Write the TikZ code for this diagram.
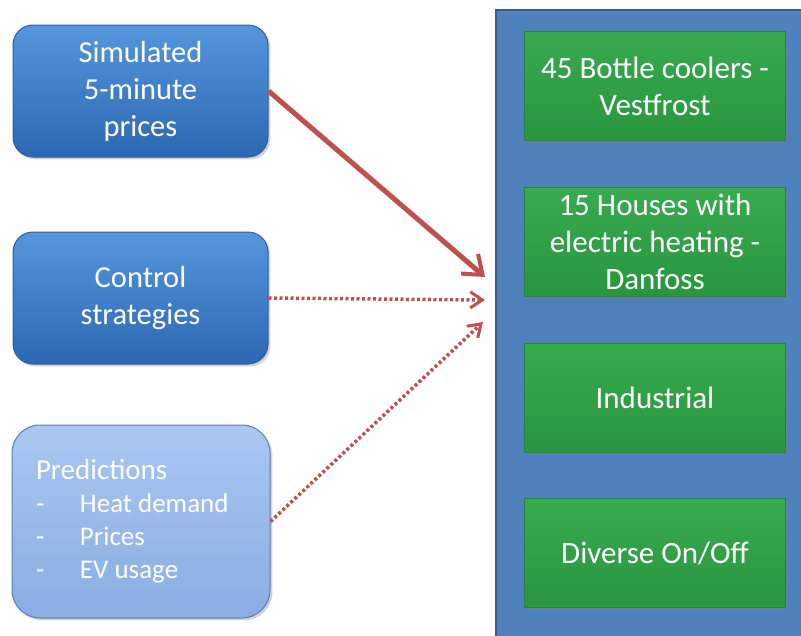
\documentclass[tikz,border=0pt]{standalone}
\usepackage{fontspec}
\setmainfont{Carlito}
\usepackage{tikz}
\usetikzlibrary{arrows.meta, positioning, shadows}

\definecolor{srctop}{HTML}{5596DD}
\definecolor{srcbottom}{HTML}{2C68B2}
\definecolor{srcline}{HTML}{2F5F9E}
\definecolor{predtop}{HTML}{A9C7F0}
\definecolor{predbottom}{HTML}{8AADE2}
\definecolor{panelfill}{HTML}{4F81BD}
\definecolor{panelline}{HTML}{385D8A}
\definecolor{unittop}{HTML}{38AA4F}
\definecolor{unitbottom}{HTML}{29963F}
\definecolor{unitline}{HTML}{26843A}
\definecolor{linkred}{HTML}{C0504D}

\begin{document}
\begin{tikzpicture}[
    x=1pt, y=-1pt,
    source/.style={rectangle, rounded corners=20pt, draw=srcline, line width=1pt, top color=srctop, bottom color=srcbottom, text=white, minimum width=255pt, minimum height=132pt, align=center, font=\fontsize{30.5}{37}\selectfont, drop shadow={opacity=0.35}},
    forecast/.style={rectangle, rounded corners=28pt, draw=srcline!80, line width=1pt, top color=predtop, bottom color=predbottom, text=white, minimum width=258pt, minimum height=193pt, text width=210pt, align=flush left, font=\fontsize{27}{33}\selectfont, drop shadow={opacity=0.35}},
    panel/.style={rectangle, draw=panelline, line width=2pt, fill=panelfill, minimum width=314pt, minimum height=640pt},
    unit/.style={rectangle, draw=unitline, line width=0.8pt, top color=unittop, bottom color=unitbottom, text=white, minimum width=261pt, minimum height=109pt, align=center, font=\fontsize{31}{37}\selectfont, drop shadow={opacity=0.4}},
    solidlink/.style={-{Straight Barb[length=17pt, width=26pt, line width=4pt]}, line width=5pt, draw=linkred},
    dotlink/.style={-{Straight Barb[length=12pt, width=16pt, line width=3pt]}, line width=3.5pt, draw=linkred, dash pattern=on 3pt off 2.5pt},
    node distance=46pt
]
\useasboundingbox (0,0) rectangle (801,635);
\clip (0,0) rectangle (801,635);

% Inputs
\node[source] (sim) at (140.5,91) {Simulated\\5-minute\\prices};
\node[source, below=74pt of sim] (ctrl) {Control\\strategies};
\node[forecast] (pred) at (141,521.5) {{\fontsize{29}{33}\selectfont Predictions}\\
  \makebox[44pt][l]{-}Heat demand\\
  \makebox[44pt][l]{-}Prices\\
  \makebox[44pt][l]{-}EV usage};

% Flexible units
\node[panel] (rack) at (653,330) {};
\node[unit, below=22pt of rack.north, xshift=2pt] (cooler) {45 Bottle coolers -\\Vestfrost};
\node[unit, below=of cooler] (house) {15 Houses with\\electric heating -\\Danfoss};
\node[unit, below=of house] (industry) {Industrial};
\node[unit, below=of industry] (onoff) {Diverse On/Off};

% Arrow ends
\coordinate (tipsim) at (485,277);
\coordinate (tipctrl) at (485,300);
\coordinate (tippred) at (483,322);

% Arrows
\draw[solidlink] (sim.east) -- (tipsim);
\draw[dotlink] (ctrl.east) -- (tipctrl);
\draw[dotlink] (pred.east) -- (tippred);

\end{tikzpicture}
\end{document}
